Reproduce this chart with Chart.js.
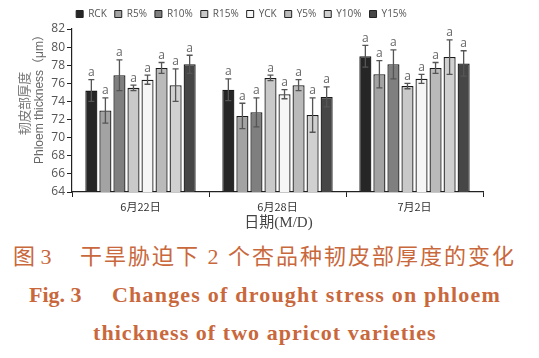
<!DOCTYPE html>
<html><head><meta charset="utf-8">
<script src="https://cdn.jsdelivr.net/npm/chart.js@4/dist/chart.umd.min.js"></script>
<style>
html,body{margin:0;padding:0;background:#fff;width:539px;height:358px;overflow:hidden;}
#wrap{position:absolute;left:0;top:0;width:539px;height:240px;}
.cap{position:absolute;white-space:pre;color:#c9683c;line-height:1;}
.cn{top:246px;font-family:"Liberation Serif","Noto Sans CJK SC",serif;font-size:22px;}
#c1a{left:13px;}
#c1b{left:80px;letter-spacing:2px;}
.en{font-family:"Liberation Serif",serif;font-weight:bold;font-size:22px;}
#c2a{top:284px;left:29px;}
#c2b{top:284px;left:112px;letter-spacing:1.2px;}
#c3{top:322px;left:93px;letter-spacing:1.05px;}
</style></head><body>
<div id="wrap"><canvas id="ch" width="539" height="240"></canvas></div>
<div class="cap cn" id="c1a">图 3</div>
<div class="cap cn" id="c1b">干旱胁迫下 2 个杏品种韧皮部厚度的变化</div>
<div class="cap en" id="c2a">Fig. 3</div>
<div class="cap en" id="c2b">Changes of drought stress on phloem</div>
<div class="cap en" id="c3">thickness of two apricot varieties</div>
<script>
const categories = ['6月22日', '6月28日', '7月2日'];
const seriesNames = ['RCK', 'R5%', 'R10%', 'R15%', 'YCK', 'Y5%', 'Y10%', 'Y15%'];
const RCK  = [75.2, 75.3, 79.0];
const R5   = [73.0, 72.4, 77.0];
const R10  = [76.9, 72.8, 78.1];
const R15  = [75.5, 76.6, 75.7];
const YCK  = [76.4, 74.8, 76.5];
const Y5   = [77.7, 75.8, 77.7];
const Y10  = [75.8, 72.5, 78.9];
const Y15  = [78.1, 74.5, 78.2];
const errRCK = [1.2, 1.2, 1.2];
const errR5  = [1.4, 1.4, 1.5];
const errR10 = [1.7, 1.6, 1.6];
const errR15 = [0.3, 0.3, 0.3];
const errYCK = [0.5, 0.5, 0.5];
const errY5  = [0.6, 0.6, 0.6];
const errY10 = [1.8, 1.9, 1.9];
const errY15 = [1.0, 1.1, 1.4];
const sigLetters = ['a', 'a', 'a'];
const yTitleCN = '韧皮部厚度';
const yTitleEN = 'Phloem thickness（μm）';
const xTitle = '日期(M/D)';
const yTicksMin = 64, yTicksMax = 82, yStep = 2;

const values = [RCK, R5, R10, R15, YCK, Y5, Y10, Y15];
const errors = [errRCK, errR5, errR10, errR15, errYCK, errY5, errY10, errY15];
const colors = ['#262626', '#a3a3a3', '#7f7f7f', '#c9c9c9', '#f6f6f6', '#bababa', '#d0d0d0', '#464646'];

const errPlugin = {
  id: 'errbars',
  afterDatasetsDraw(chart) {
    const ctx = chart.ctx, y = chart.scales.y;
    ctx.save();
    chart.data.datasets.forEach((ds, di) => {
      const meta = chart.getDatasetMeta(di);
      meta.data.forEach((bar, i) => {
        const v = ds.data[i], e = errors[di][i];
        const yt = y.getPixelForValue(v + e), yb = y.getPixelForValue(v - e);
        ctx.strokeStyle = '#555'; ctx.lineWidth = 1.3;
        ctx.beginPath();
        ctx.moveTo(bar.x, yt); ctx.lineTo(bar.x, yb);
        ctx.moveTo(bar.x - 3, yt); ctx.lineTo(bar.x + 3, yt);
        ctx.moveTo(bar.x - 3, yb); ctx.lineTo(bar.x + 3, yb);
        ctx.stroke();
        ctx.fillStyle = '#666';
        ctx.font = '12px "Open Sans", sans-serif';
        ctx.textAlign = 'center'; ctx.textBaseline = 'bottom';
        ctx.fillText(sigLetters[i], bar.x, yt - 1);
      });
    });
    ctx.restore();
  },
  afterDraw(chart) {
    const ctx = chart.ctx, a = chart.chartArea;
    const cy = (a.top + a.bottom) / 2;
    // Chinese y title, drawn glyph by glyph (rotated, reading bottom to top)
    ctx.save();
    ctx.fillStyle = '#777';
    ctx.textAlign = 'center'; ctx.textBaseline = 'middle';
    ctx.translate(24, cy - 7); ctx.rotate(-Math.PI / 2);
    ctx.font = '13px "Noto Sans CJK SC", sans-serif';
    const chars = Array.from(yTitleCN), pitch = 12.6;
    const start = -pitch * (chars.length - 1) / 2;
    chars.forEach((c, k) => ctx.fillText(c, start + k * pitch, 0));
    ctx.restore();
    ctx.save();
    ctx.fillStyle = '#666';
    ctx.textAlign = 'center'; ctx.textBaseline = 'middle';
    ctx.translate(40, cy - 14); ctx.rotate(-Math.PI / 2);
    ctx.font = '12px "Liberation Sans", "Noto Sans CJK SC", sans-serif';
    ctx.fillText(yTitleEN, 0, 0);
    ctx.restore();
    ctx.save();
    ctx.fillStyle = '#444';
    ctx.textAlign = 'center'; ctx.textBaseline = 'middle';
    ctx.font = '15px "Liberation Serif", "Noto Sans CJK SC", serif';
    ctx.fillText(xTitle, (a.left + a.right) / 2 + 1, 223);
    ctx.restore();
  }
};

new Chart(document.getElementById('ch'), {
  type: 'bar',
  data: {
    labels: categories,
    datasets: seriesNames.map((n, i) => ({
      label: n, data: values[i], backgroundColor: colors[i],
      borderColor: '#1a1a1a', borderWidth: 1.3,
      categoryPercentage: 0.82, barPercentage: 0.86
    }))
  },
  options: {
    responsive: false, animation: false,
    layout: { padding: { left: 0, right: 56, top: 1, bottom: 0 } },
    plugins: {
      legend: {
        position: 'top',
        labels: { boxWidth: 7, boxHeight: 7, padding: 8, color: '#555',
          font: { family: '"Open Sans", sans-serif', size: 10 },
          generateLabels(chart) {
            return chart.data.datasets.map((d, i) => ({
              text: d.label, fillStyle: d.backgroundColor, strokeStyle: '#222',
              lineWidth: 1, datasetIndex: i, fontColor: '#555'
            }));
          }
        }
      },
      tooltip: { enabled: false }
    },
    scales: {
      x: {
        grid: { display: true, drawOnChartArea: false, offset: true, color: '#222', tickLength: 5 },
        border: { color: '#222', width: 1.2 },
        ticks: { color: '#333', font: { family: '"Noto Sans CJK SC", sans-serif', size: 11 }, padding: 3 },
        afterFit(s) { s.height = 48; }
      },
      y: {
        min: yTicksMin, max: yTicksMax,
        grid: { display: true, drawOnChartArea: false, color: '#222', tickLength: 5 },
        border: { color: '#222', width: 1.2 },
        ticks: { stepSize: yStep, color: '#555', font: { family: '"Open Sans", sans-serif', size: 12 }, padding: 2 },
        afterFit(s) { s.width = 72; }
      }
    }
  },
  plugins: [errPlugin]
});
</script>
</body></html>
